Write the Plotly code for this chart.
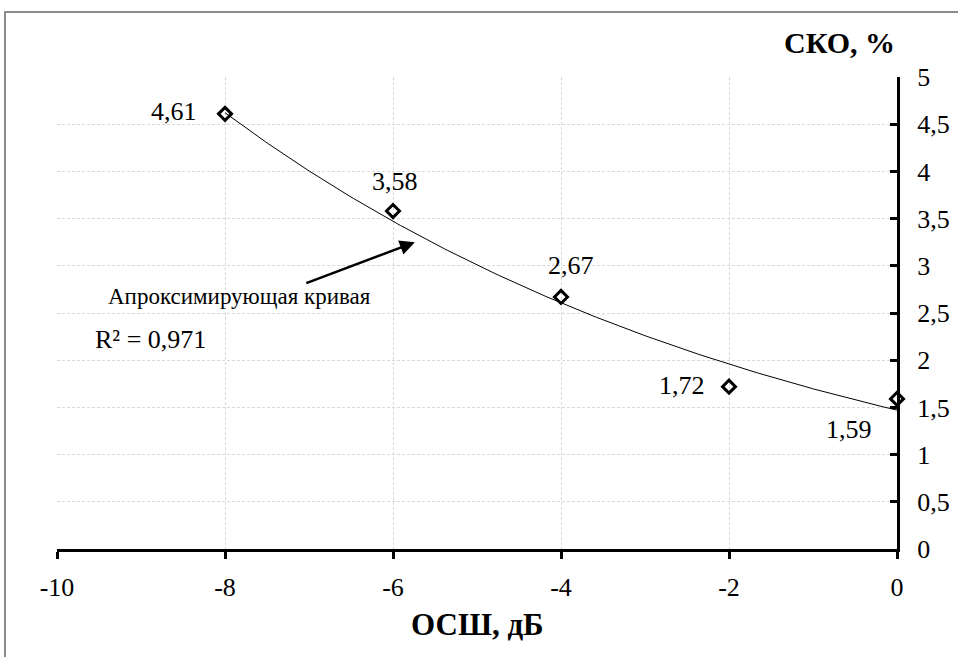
import numpy as np
import plotly.graph_objects as go

# Data
snr_db = [-8, -6, -4, -2, 0]
rmse_pct = [4.61, 3.58, 2.67, 1.72, 1.59]
label_dx = [-51, 2, 10, -47, -48]
label_dy = [2, 30, 31, 1, -31]
x_ticks = [-10, -8, -6, -4, -2, 0]
y_ticks = [0, 0.5, 1, 1.5, 2, 2.5, 3, 3.5, 4, 4.5, 5]
r2_text = "R² = 0,971"
trend_label = "Апроксимирующая кривая"

# exponential trend line (least squares on log values, as in spreadsheet trendline)
b, ln_a = np.polyfit(np.array(snr_db, float), np.log(rmse_pct), 1)
tx = np.linspace(min(snr_db), max(snr_db), 200)
ty = np.exp(ln_a) * np.exp(b * tx)

FONT = '"Liberation Serif", "Times New Roman", "DejaVu Serif", serif'

T, B = 77, 108
PH = 657 - T - B

fig = go.Figure()
fig.add_trace(go.Scatter(x=tx, y=ty, mode="lines",
                         line=dict(color="black", width=1), hoverinfo="skip",
                         showlegend=False, cliponaxis=False))
fig.add_trace(go.Scatter(
    x=snr_db, y=rmse_pct, mode="markers",
    marker=dict(symbol="diamond-open", size=10, color="black", line=dict(width=3, color="black")),
    showlegend=False, cliponaxis=False))

gridcol = "#d9d9d9"
fig.update_layout(
    width=958, height=657,
    margin=dict(l=57, r=61, t=T, b=B, autoexpand=False),
    paper_bgcolor="white", plot_bgcolor="white",
    separators=", ",
    font=dict(family=FONT, size=22, color="black"),
    xaxis=dict(range=[-10, 0], tickvals=x_ticks, ticktext=[str(v) for v in x_ticks],
               showgrid=True, gridcolor=gridcol, griddash="3px,2px", gridwidth=1,
               zeroline=False, showline=True, linecolor="black", linewidth=3,
               ticks="outside", ticklen=7, tickwidth=3, tickcolor="black",
               ticklabelstandoff=6, automargin=False,
               tickfont=dict(family=FONT, size=26)),
    yaxis=dict(range=[0, 5], tickvals=y_ticks,
               ticktext=[str(v).replace(".", ",") if v % 1 else str(int(v)) for v in y_ticks],
               side="right", showgrid=True, gridcolor=gridcol, griddash="3px,2px", gridwidth=1,
               zeroline=False, showline=True, linecolor="black", linewidth=3,
               ticks="inside", ticklen=7, tickwidth=3, tickcolor="black",
               ticklabelstandoff=12, automargin=False,
               tickfont=dict(family=FONT, size=26)),
)

annotations = [
    dict(text="<b>СКО, %</b>", xref="paper", yref="paper", x=1.0, y=(PH + T - 43) / PH,
         xanchor="right", yanchor="middle", showarrow=False,
         font=dict(family=FONT, size=30)),
    dict(text="<b>ОСШ, дБ</b>", xref="paper", yref="paper", x=0.5, y=(PH + T - 624) / PH,
         xanchor="center", yanchor="middle", showarrow=False,
         font=dict(family=FONT, size=31)),
    dict(text=trend_label, xref="x", yref="y", x=-7.83, y=2.67,
         xanchor="center", yanchor="middle", showarrow=False,
         font=dict(family=FONT, size=23)),
    dict(text=r2_text, xref="x", yref="y", x=-9.57, y=2.22,
         xanchor="left", yanchor="middle", showarrow=False,
         font=dict(family=FONT, size=26)),
    dict(x=-5.74, y=3.25, ax=-7.05, ay=2.81, xref="x", yref="y", axref="x", ayref="y",
         text="", showarrow=True, arrowhead=2, arrowsize=1.2, arrowwidth=2.5,
         arrowcolor="black"),
]
for xv, yv, dx, dy in zip(snr_db, rmse_pct, label_dx, label_dy):
    annotations.append(dict(text=f"{yv:.2f}".replace(".", ","), x=xv, y=yv, xref="x", yref="y",
                            xshift=dx, yshift=dy, showarrow=False,
                            xanchor="center", yanchor="middle",
                            font=dict(family=FONT, size=26)))
fig.update_layout(annotations=annotations)

# outer chart border
fig.add_shape(type="rect", xref="paper", yref="paper",
              x0=(5 - 57) / 840, x1=1.2, y0=-0.5, y1=(PH + T - 12) / PH,
              line=dict(color="#8c8c8c", width=2), fillcolor="rgba(0,0,0,0)", layer="below")

fig.write_html("out.html", config={"displayModeBar": False},
               post_script="document.body.style.margin='0';document.body.style.overflow='hidden';")
